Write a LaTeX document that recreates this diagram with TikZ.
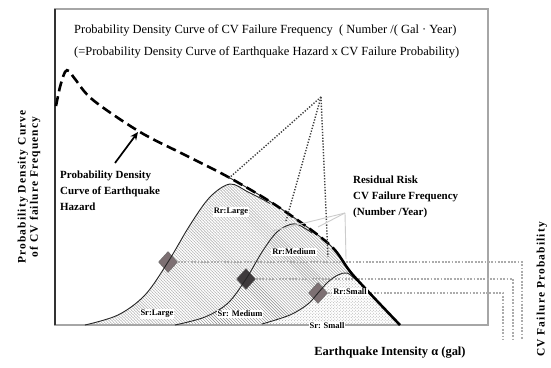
\documentclass[tikz,border=0pt]{standalone}
\usepackage{fontspec}
\setmainfont{Liberation Serif}
\usetikzlibrary{shapes.geometric,patterns,arrows.meta}

% curve data (1 unit = 1bp, y grows downwards)
\def\hazardpts{(56,106) (60,87) (65,72) (69,71) (75,79) (93,100) (140,132) (185,155) (230,178) (280,208) (330,245) (353,275) (400,325)}
\def\bellLpts{(85,325) (118,315) (145,295) (168,262) (190,225) (210,197) (230,184) (248,192) (262,199) (270,203.5)}
\def\bellMpts{(175,325) (205,317) (228,303) (246,279) (262,252) (275,234) (286,226) (296,224) (306,229) (312,233)}
\def\bellSpts{(262,324) (290,315) (308,304) (318,293) (328,282) (338,275) (347,273) (355,279) (360,283)}

\definecolor{markergray}{RGB}{125,112,115}
\definecolor{markerdark}{RGB}{62,58,60}

\begin{document}
\begin{tikzpicture}[x=1bp,y=-1bp,
  frame/.style={draw=gray!70, line width=1.3bp},
  hazardline/.style={line width=2.6bp},
  bell/.style={draw=black!85, line width=0.9bp},
  marker/.style={diamond, draw=black!60, line width=0.4bp, minimum width=19bp, minimum height=21bp, inner sep=0pt},
  guide/.style={draw=gray!65, line width=1.1bp, dash pattern=on 1.8bp off 1.5bp},
  pointer/.style={draw=gray!50!black, line width=1.4bp, dash pattern=on 1.3bp off 1.6bp},
  leader/.style={draw=gray!40, line width=0.9bp},
  tag/.style={font=\fontsize{8.5}{9}\selectfont\bfseries, fill=white, inner sep=1bp},
  lbl/.style={font=\fontsize{11}{16}\selectfont\bfseries, align=left, anchor=west, inner sep=0pt},
  titletext/.style={font=\fontsize{12.5}{14}\selectfont, anchor=west, inner sep=0pt},
  sidetext/.style={font=\fontsize{11.5}{12.5}\selectfont\bfseries\addfontfeature{LetterSpace=10}, rotate=90, inner sep=0pt},
]
\useasboundingbox (0,0) rectangle (551,367);
\fill[white] (0,0) rectangle (551,367);

% shaded bands under the hazard curve, one per capacity curve
\begin{scope}
  \clip plot[smooth,tension=0.55] coordinates {\bellLpts} -- (270,90) -- (430,90) -- (430,330) -- (85,330) -- cycle;
  \fill[pattern=north west lines, pattern color=gray!55] plot[smooth,tension=0.55] coordinates {\hazardpts} -- (56,325) -- cycle;
  \fill[pattern=crosshatch dots, pattern color=gray!60] plot[smooth,tension=0.55] coordinates {\hazardpts} -- (56,325) -- cycle;
\end{scope}
\begin{scope}
  \clip plot[smooth,tension=0.55] coordinates {\bellMpts} -- (312,90) -- (430,90) -- (430,330) -- (175,330) -- cycle;
  \fill[white] plot[smooth,tension=0.55] coordinates {\hazardpts} -- (56,325) -- cycle;
  \fill[pattern=north west lines, pattern color=gray!95] plot[smooth,tension=0.55] coordinates {\hazardpts} -- (56,325) -- cycle;
\end{scope}
\begin{scope}
  \clip plot[smooth,tension=0.55] coordinates {\bellSpts} -- (360,90) -- (430,90) -- (430,330) -- (262,330) -- cycle;
  \fill[white] plot[smooth,tension=0.55] coordinates {\hazardpts} -- (56,325) -- cycle;
  \fill[pattern=crosshatch dots, pattern color=gray!70] plot[smooth,tension=0.55] coordinates {\hazardpts} -- (56,325) -- cycle;
\end{scope}

% plot frame
\draw[frame] (55,9) rectangle (488,325);
\draw[draw=gray!40!black, line width=1.2bp] (55,9) -- (55,325);

% diamonds on the capacity curves
\node[marker, fill=markergray] (dL) at (168,262) {};
\node[marker, fill=markerdark] (dM) at (246,279) {};
\node[marker, fill=markergray] (dS) at (318,293) {};

% projection guides to the probability axis
\coordinate (gL) at (522,262);  \coordinate (gLb) at (522,340);
\coordinate (gM) at (513,279);  \coordinate (gMb) at (513,340);
\coordinate (gS) at (503,293);  \coordinate (gSb) at (503,340);
\draw[guide] (dL.east) -- (gL) -- (gLb);
\draw[guide] (dM.east) -- (gM) -- (gMb);
\draw[guide] (dS.east) -- (gS) -- (gSb);

% capacity curves
\draw[bell] plot[smooth,tension=0.55] coordinates {\bellLpts};
\draw[bell] plot[smooth,tension=0.55] coordinates {\bellMpts};
\draw[bell] plot[smooth,tension=0.55] coordinates {\bellSpts};
\begin{scope}
  \clip (228,100) rectangle (430,330);
  \draw[bell] plot[smooth,tension=0.55] coordinates {\hazardpts};
\end{scope}

% hazard curve: dashed upper part, solid tail
\begin{scope}
  \clip (0,0) rectangle (336,330);
  \draw[hazardline, dash pattern=on 10bp off 5bp] plot[smooth,tension=0.55] coordinates {\hazardpts};
\end{scope}
\begin{scope}
  \clip (336,0) rectangle (430,330);
  \draw[hazardline] plot[smooth,tension=0.55] coordinates {\hazardpts};
\end{scope}

% titles
\node[titletext] (t1) at (74,30)
  {Probability Density Curve of CV Failure Frequency\ \ ( Number /( Gal · Year)};
\node[titletext] (t2) at (74,52)
  {(=Probability Density Curve of Earthquake Hazard x CV Failure Probability)};

% band tags
\node[tag] (rL) at (231,212) {Rr:Large};
\node[tag] (rM) at (294,252) {Rr:Medium};
\node[tag] (rS) at (350,292) {Rr:Small};
\node[tag] (sL) at (157,314) {Sr:Large};
\node[tag] (sM) at (240,314) {Sr: Medium};
\node[tag] (sS) at (327,326) {Sr: Small};

% pointers from the frequency curve callout
\coordinate (apex) at (321,97);
\coordinate (pL) at (228,179);
\coordinate (pM) at (286,221);
\coordinate (pS) at (328,257);
\draw[pointer] (apex) -- (pL);
\draw[pointer] (apex) -- (pM);
\draw[pointer] (apex) -- (pS);

% residual risk callout
\node[lbl] (rr) at (353,197) {Residual Risk\\CV Failure Frequency\\(Number /Year)};
\coordinate (rapex) at (345,213);
\coordinate (qL) at (272,231);
\coordinate (qM) at (318,227);
\coordinate (qS) at (346,259);
\draw[leader] (rapex) -- (qL);
\draw[leader] (rapex) -- (qM);
\draw[leader] (rapex) -- (qS);

% hazard callout
\node[lbl] (hz) at (60,191) {Probability Density\\Curve of Earthquake\\Hazard};
\coordinate (hzfrom) at (115,163);
\coordinate (hzto) at (138,132);
\draw[-{Stealth[length=8bp,width=7bp]}, line width=1.7bp] (hzfrom) -- (hzto);

% axis titles
\node[sidetext, align=center] (ylab) at (29,187)
  {Probability Density Curve\\of CV failure Frequency};
\node[font=\fontsize{12.5}{14}\selectfont\bfseries, inner sep=0pt] (xlab) at (390,353)
  {Earthquake Intensity α (gal)};
\node[sidetext, anchor=east] (plab) at (542,222)
  {CV Failure Probability};
\end{tikzpicture}
\end{document}
